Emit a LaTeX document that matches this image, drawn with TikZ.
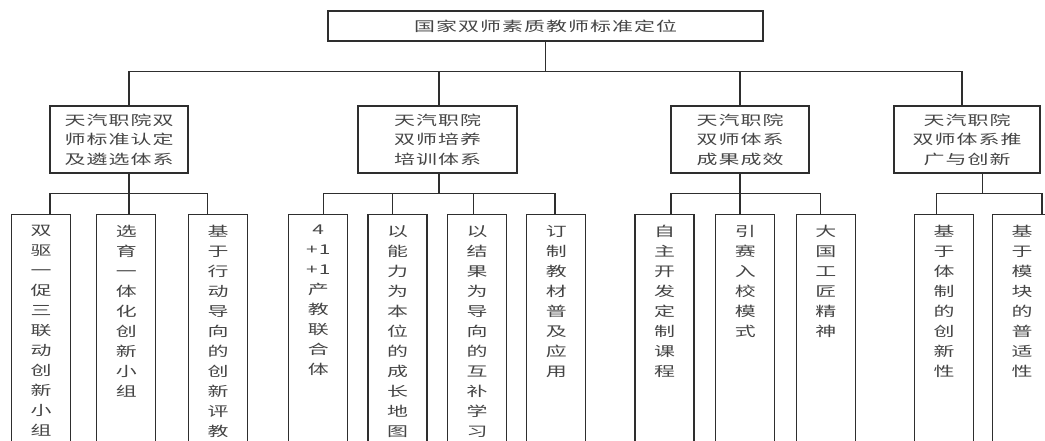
\documentclass[tikz,border=0pt]{standalone}
\usepackage{fontspec}
\usepackage{tikz}
\usetikzlibrary{positioning}
\newfontfamily\cjk{Noto Sans CJK SC}[FakeStretch=1.55,LetterSpace=8]
\definecolor{ink}{HTML}{2E2E2E}
\definecolor{txt}{HTML}{454545}
\tikzset{
  link/.style={draw=ink, line width=1.3pt},
  boxline/.style={draw=ink, line width=1.3pt, inner sep=0pt},
  rootbox/.style={boxline, minimum width=435pt, minimum height=30pt, text=txt, font=\cjk\fontsize{13.5}{19.5}\selectfont},
  midbox/.style={boxline, minimum height=67pt, align=center, text=txt, font=\cjk\fontsize{13.5}{19.5}\selectfont},
  leafbox/.style={boxline, minimum width=59pt, minimum height=240pt, anchor=north},
  leaftext/.style={inner sep=0pt, align=center, text=txt, font=\cjk\fontsize{13.5}{20}\selectfont},
}
\begin{document}
\begin{tikzpicture}[x=1pt,y=-1pt]
  \useasboundingbox (0,0) rectangle (1045,441);
  \clip (0,0) rectangle (1045,441);
  \node[rootbox] (root) at (545.5,26) {国家双师素质教师标准定位};
  \foreach \n/\x/\w/\t in {b1/119/138/天汽职院双\\师标准认定\\及遴选体系,
                           b2/437.5/159/天汽职院\\双师培养\\培训体系,
                           b3/740/138/天汽职院\\双师体系\\成果成效,
                           b4/967/146/天汽职院\\双师体系推\\广与创新}
    \node[midbox, minimum width=\w pt] (\n) at (\x,139.5) {\t};
  % trunk
  \draw[link] (root.south) -- ++(0,30) coordinate (bus);
  \foreach \n/\dx in {b1/10,b2/1.5,b3/0,b4/-5}
    \draw[link] (bus) -| ([xshift=\dx pt]\n.north);
  % leaves
  \foreach \n/\x/\t in {l11/41/双\\驱\\一\\促\\三\\联\\动\\创\\新\\小\\组,
                        l12/126.3/选\\育\\一\\体\\化\\创\\新\\小\\组,
                        l13/218.2/基\\于\\行\\动\\导\\向\\的\\创\\新\\评\\教,
                        l21/318.3/4\\+1\\+1\\产\\教\\联\\合\\体,
                        l22/397.5/以\\能\\力\\为\\本\\位\\的\\成\\长\\地\\图,
                        l23/477/以\\结\\果\\为\\导\\向\\的\\互\\补\\学\\习,
                        l24/556.3/订\\制\\教\\材\\普\\及\\应\\用,
                        l31/664.5/自\\主\\开\\发\\定\\制\\课\\程,
                        l32/745.3/引\\赛\\入\\校\\模\\式,
                        l33/825.8/大\\国\\工\\匠\\精\\神,
                        l41/944.2/基\\于\\体\\制\\的\\创\\新\\性,
                        l42/1022/基\\于\\模\\块\\的\\普\\适\\性}{
    \node[leafbox] (\n) at (\x,214) {};
    \node[leaftext, below=11pt of \n.north] {\t};
  }
  % branches
  \draw[link] ([xshift=10pt]b1.south) -- ++(0,20) coordinate (s1);
  \foreach \n/\dx in {l11/9,l12/2.7,l13/-11}
    \draw[link] (s1) -| ([xshift=\dx pt]\n.north);
  \draw[link] ([xshift=1.5pt]b2.south) -- ++(0,20) coordinate (s2);
  \foreach \n/\dx in {l21/5,l22/-4.8,l23/-3.7,l24/-1.3}
    \draw[link] (s2) -| ([xshift=\dx pt]\n.north);
  \draw[link] (b3.south) -- ++(0,20) coordinate (s3);
  \foreach \n/\dx in {l31/6.5,l32/-5.3,l33/-5.1}
    \draw[link] (s3) -| ([xshift=\dx pt]\n.north);
  \draw[link] ([xshift=15.7pt]b4.south) -- ++(0,20) coordinate (s4);
  \foreach \n/\dx in {l41/-7.5,l42/20}
    \draw[link] (s4) -| ([xshift=\dx pt]\n.north);
\end{tikzpicture}
\end{document}
